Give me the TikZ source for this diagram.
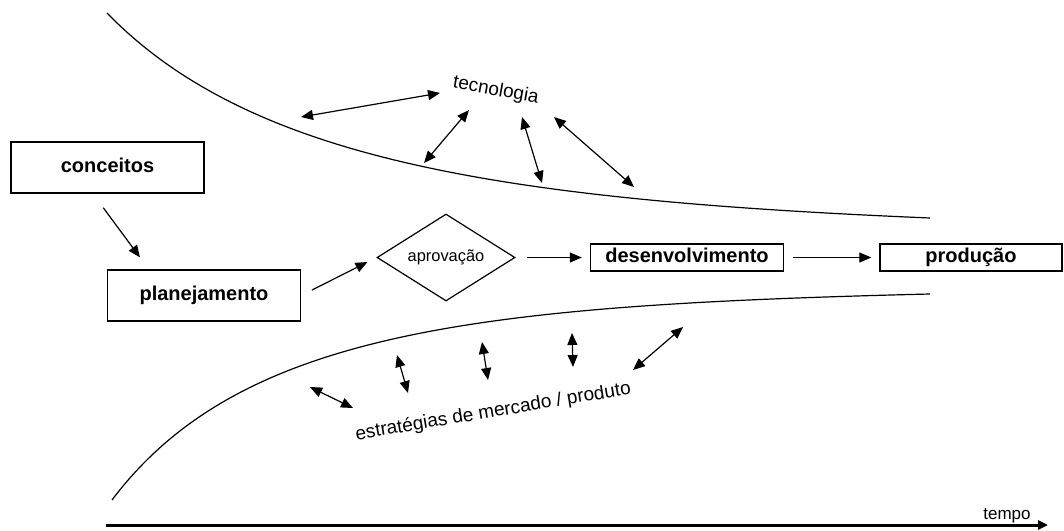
\documentclass[tikz,border=0pt]{standalone}
\usepackage{fontspec}
\setmainfont{Liberation Sans}
\usetikzlibrary{arrows.meta,shapes.geometric}

\begin{document}
\begin{tikzpicture}[x=0.5pt,y=-0.5pt,
  bloco/.style={draw,line width=0.7pt,minimum width=96.5pt,minimum height=25.5pt,
    inner sep=0pt,text height=7.4pt,text depth=2pt,
    font=\bfseries\fontsize{10}{12}\selectfont},
  barra/.style={bloco,minimum height=13.5pt},
  decisao/.style={draw,diamond,aspect=1.6,line width=0.6pt,inner sep=0pt,
    minimum width=69pt,minimum height=43.5pt,font=\fontsize{8.2}{10}\selectfont},
  rotulo/.style={font=\fontsize{9.5}{11}\selectfont,anchor=base,inner sep=0pt},
  curva/.style={line width=0.6pt},
  flow/.style={line width=0.6pt,-{Triangle[length=6pt,width=5pt]}},
  elo/.style={line width=0.6pt,{Triangle[length=6pt,width=5pt]}-{Triangle[length=6pt,width=5pt]}},
  tempo/.style={line width=1.5pt,-{Triangle[length=5pt,width=4.5pt]}}]
  \useasboundingbox (0,0) rectangle (1064,530);

  % fases
  \node[bloco] (conceitos) at (107.5,167.5) {conceitos};
  \node[bloco] (plan) at (204,295.5) {planejamento};
  \node[decisao] (aprov) at (446,257.5) {aprovação};
  \node[barra] (desenv) at (687,257.5) {desenvolvimento};
  \node[barra,minimum width=91pt] (prod) at (971,257.5) {produção};

  \draw[flow,shorten <=8.7pt,shorten >=7.4pt]
    ([xshift=-7.3pt]conceitos.south) -- ([xshift=-27.6pt]plan.north);
  \draw[flow,shorten <=6pt,shorten >=5pt] (plan.east) -- (aprov.west);
  \draw[flow,shorten <=5.5pt,shorten >=4pt] (aprov.east) -- (desenv.west);
  \draw[flow,shorten <=4.5pt,shorten >=4pt] (desenv.east) -- (prod.west);

  % funil
  \draw[curva] (107,13) .. controls (250,160) and (500,200) .. (930,218);
  \draw[curva] (112,500) .. controls (240,330) and (480,305) .. (930,294);

  % tecnologia
  \node[rotulo,rotate=-10] (tec) at (495,95.5) {tecnologia};
  \foreach \xa/\ya/\xb/\yb [count=\i] in
    {301/117/440/93, 424/163/469/110, 522/117/542/183, 554/117/634/187}
  {
    \coordinate (tec\i-a) at (\xa,\ya);
    \coordinate (tec\i-b) at (\xb,\yb);
    \draw[elo] (tec\i-a) -- (tec\i-b);
  }

  % mercado
  \node[rotulo,rotate=9.5] (merc) at (494,417) {estratégias de mercado / produto};
  \foreach \xa/\ya/\xb/\yb [count=\i] in
    {310/387/353/408, 397/355/408/393, 482/342/488/380, 572/333/573/367, 683/327/633/370}
  {
    \coordinate (merc\i-a) at (\xa,\ya);
    \coordinate (merc\i-b) at (\xb,\yb);
    \draw[elo] (merc\i-a) -- (merc\i-b);
  }

  % eixo
  \coordinate (t0) at (106,525);
  \coordinate (t1) at (1048,525);
  \draw[tempo] (t0) -- (t1);
  \node[rotulo,font=\fontsize{8.5}{10}\selectfont] (eixo) at (1007,519) {tempo};
\end{tikzpicture}
\end{document}
